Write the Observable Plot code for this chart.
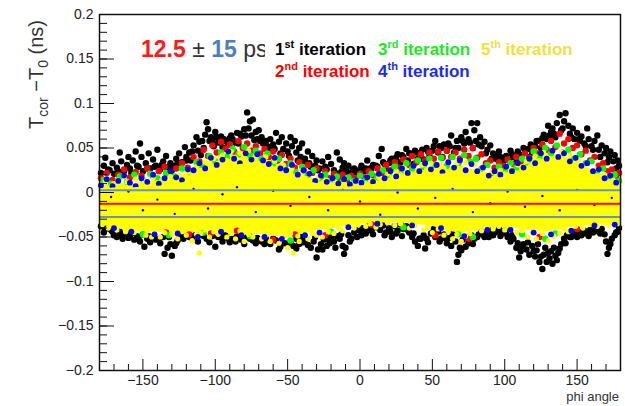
<!DOCTYPE html>
<html><head><meta charset="utf-8">
<script src="https://cdn.jsdelivr.net/npm/d3@7"></script>
<script src="https://cdn.jsdelivr.net/npm/@observablehq/plot@0.6"></script>
<style>body{margin:0;background:#fff}</style>
</head><body><div id="chart"></div>
<script>
// fit result (ns)
const meanNs = -0.0125;
const sigmaNs = 0.015;

// tick positions
const xMajor = [-150,-100,-50,0,50,100,150];
const xMinor = [-180,-170,-160,-140,-130,-120,-110,-90,-80,-70,-60,-40,-30,-20,-10,10,20,30,40,60,70,80,90,110,120,130,140,160,170,180];
const yMajor = [-0.2,-0.15,-0.1,-0.05,0,0.05,0.1,0.15,0.2];
const yMinor = d3.range(-20, 21).map(d => d / 100);

// 5th-iteration cloud: dense core and outer extent
const phiGrid = [-180,-170,-160,-150,-140,-130,-120,-110,-100,-90,-80,-70,-60,-50,-40,-30,-20,-10,0,10,20,30,40,50,60,70,80,90,100,110,120,130,140,150,160,170,180];
const yellowTop = [.004,.005,.005,.006,.007,.008,.012,.020,.026,.030,.032,.030,.024,.019,.014,.010,.007,.006,.007,.009,.012,.016,.019,.020,.021,.020,.017,.014,.017,.021,.028,.032,.030,.025,.018,.009,.006];
const yellowBot = [-.032,-.034,-.035,-.036,-.037,-.036,-.037,-.035,-.035,-.037,-.038,-.038,-.039,-.040,-.038,-.036,-.035,-.033,-.032,-.031,-.031,-.031,-.032,-.034,-.036,-.038,-.036,-.034,-.034,-.035,-.036,-.037,-.035,-.033,-.032,-.031,-.031];
const yellowOuterTop = [.007,.009,.009,.011,.013,.014,.021,.031,.038,.045,.047,.044,.035,.028,.021,.015,.011,.009,.011,.014,.018,.023,.027,.028,.030,.028,.025,.021,.025,.030,.041,.045,.041,.035,.025,.014,.010];
const yellowOuterBot = [-.036,-.040,-.042,-.044,-.045,-.045,-.046,-.044,-.043,-.046,-.048,-.047,-.049,-.051,-.047,-.043,-.041,-.038,-.036,-.034,-.034,-.034,-.036,-.038,-.043,-.046,-.042,-.039,-.039,-.041,-.043,-.044,-.041,-.038,-.036,-.035,-.034];

// 1st iteration (black)
const blackPts = [
[-179,.022],[-177,.030],[-176,.039],[-173,.025],[-171,.033],[-170,.021],
[-168,.028],[-166,.045],[-165,.035],[-163,.024],[-161,.031],[-160,.040],
[-158,.022],[-157,.036],[-155,.046],[-153,.029],[-152,.055],[-151,.040],[-150,.024],
[-148,.033],[-146,.044],[-145,.027],[-143,.037],[-141,.030],[-140,.048],
[-138,.026],[-136,.035],[-134,.041],[-133,.028],[-131,.033],[-130,.025],
[-128,.030],[-127,.038],[-125,.044],[-123,.034],[-121,.051],[-120,.040],
[-118,.045],[-117,.036],[-115,.053],[-113,.062],[-112,.047],[-111,.057],[-110,.042],
[-108,.050],[-107,.065],[-106,.079],[-105,.071],[-104,.058],[-103,.062],[-101,.052],[-100,.068],
[-98,.056],[-96,.063],[-95,.051],[-93,.058],[-91,.054],[-90,.061],
[-88,.060],[-86,.056],[-85,.067],[-84,.055],[-82,.063],[-80,.071],[-78,.090],[-77,.072],[-76,.080],
[-75,.064],[-74,.082],[-73,.059],[-72,.068],[-71,.060],[-70,.070],
[-68,.062],[-67,.055],[-65,.058],[-63,.050],[-62,.060],[-60,.054],
[-58,.067],[-56,.057],[-54,.062],[-53,.049],[-51,.055],[-50,.046],
[-48,.062],[-47,.052],[-45,.058],[-44,.045],[-42,.050],[-41,.040],[-40,.055],
[-38,.038],[-36,.046],[-35,.033],[-33,.041],[-31,.030],[-30,.036],
[-28,.027],[-26,.035],[-24,.029],[-22,.040],[-20,.032],
[-18,.025],[-16,.045],[-14,.037],[-12,.028],[-11,.033],[-10,.024],
[-8,.030],[-6,.022],[-4,.027],[-2,.021],[0,.026],
[1,.030],[3,.024],[5,.036],[7,.027],[9,.031],
[12,.029],[13,.041],[15,.049],[16,.034],[18,.026],[20,.033],
[22,.038],[24,.029],[26,.043],[28,.034],[30,.040],
[32,.049],[33,.036],[35,.044],[37,.032],[38,.047],[40,.038],
[42,.043],[44,.037],[46,.050],[48,.041],[50,.047],
[52,.058],[54,.045],[55,.052],[57,.040],[58,.054],[60,.047],
[62,.052],[63,.064],[65,.045],[67,.058],[68,.050],[70,.062],
[72,.055],[73,.068],[75,.060],[77,.078],[78,.050],[79,.070],[80,.058],
[81,.078],[83,.062],[84,.052],[86,.057],[88,.048],[90,.053],
[92,.044],[94,.038],[96,.046],[97,.040],[99,.035],
[101,.041],[103,.036],[104,.047],[106,.040],[108,.034],[110,.043],
[112,.038],[114,.045],[116,.049],[117,.040],[119,.044],
[121,.052],[123,.058],[125,.050],[127,.065],[129,.060],[130,.075],
[132,.068],[133,.072],[135,.062],[136,.078],[138,.087],[139,.070],
[141,.080],[142,.089],[144,.075],[145,.066],[147,.072],[148,.060],[150,.067],
[152,.058],[153,.063],[155,.055],[157,.072],[158,.060],[160,.052],
[162,.058],[164,.064],[165,.048],[167,.053],[169,.044],[170,.050],
[172,.040],[173,.046],[175,.035],[176,.042],[178,.036],[179,.030],
[-174,.026],[-167,.024],[-159,.027],[-154,.030],[-147,.027],[-142,.029],[-137,.031],[-132,.029],[-126,.033],[-120,.036],[-116,.046],[-109,.058],[-102,.058],[-99,.062],[-94,.060],[-89,.064],[-83,.066],[-79,.064],[-69,.058],[-64,.052],[-59,.049],[-55,.044],[-49,.041],[-43,.036],[-39,.032],[-34,.029],[-29,.025],[-23,.026],[-17,.022],[-13,.023],[-9,.023],[-5,.026],[-1,.024],[4,.027],[8,.027],[11,.030],[17,.032],[21,.036],[25,.039],[29,.042],[34,.044],[39,.045],[43,.048],[47,.046],[51,.052],[56,.050],[61,.055],[66,.050],[71,.058],[76,.056],[82,.054],[87,.044],[91,.038],[95,.041],[100,.039],[105,.043],[109,.046],[113,.050],[118,.054],[122,.058],[126,.061],[131,.064],[134,.066],[140,.072],[146,.062],[151,.060],[156,.052],[161,.048],[166,.040],[171,.034],[177,.027],
[-179,-.038],[-177,-.045],[-175,-.037],[-172,-.042],[-170,-.048],
[-168,-.050],[-166,-.044],[-164,-.052],[-162,-.047],[-160,-.051],
[-158,-.046],[-156,-.053],[-154,-.049],[-152,-.055],[-150,-.047],
[-149,-.061],[-147,-.052],[-145,-.056],[-143,-.050],[-141,-.053],
[-138,-.057],[-136,-.050],[-135,-.069],[-133,-.062],[-131,-.058],[-130,-.071],
[-128,-.060],[-126,-.054],[-124,-.049],[-122,-.052],
[-118,-.050],[-114,-.048],[-110,-.047],[-106,-.052],[-102,-.049],[-100,-.061],
[-98,-.050],[-95,-.055],[-93,-.048],[-90,-.056],
[-88,-.052],[-85,-.049],[-82,-.053],[-78,-.050],[-74,-.054],[-71,-.051],
[-68,-.055],[-65,-.052],[-62,-.058],[-58,-.054],[-55,-.061],[-52,-.057],
[-48,-.055],[-46,-.060],[-44,-.052],[-42,-.058],[-40,-.050],
[-38,-.053],[-36,-.059],[-34,-.062],[-32,-.055],[-30,-.073],[-29,-.064],
[-27,-.058],[-25,-.053],[-23,-.060],[-21,-.057],[-20,-.050],
[-18,-.055],[-16,-.049],[-14,-.052],[-12,-.060],[-11,-.069],[-10,-.062],
[-8,-.048],[-6,-.052],[-4,-.045],[-2,-.050],[0,-.043],
[2,-.040],[4,-.046],[6,-.038],[8,-.043],[10,-.039],
[12,-.036],[14,-.042],[16,-.037],[18,-.045],[20,-.040],
[22,-.050],[24,-.038],[26,-.043],[28,-.036],[30,-.041],
[32,-.038],[34,-.045],[36,-.050],[38,-.055],[40,-.060],
[42,-.052],[44,-.048],[45,-.063],[47,-.056],[49,-.046],
[52,-.050],[54,-.044],[56,-.052],[58,-.047],[60,-.057],
[62,-.051],[64,-.046],[66,-.055],[67,-.078],[68,-.070],[69,-.062],
[71,-.053],[73,-.061],[75,-.057],[77,-.048],[79,-.052],
[82,-.047],[84,-.044],[86,-.050],[88,-.046],[90,-.043],
[92,-.048],[94,-.044],[96,-.041],[98,-.046],[100,-.043],
[102,-.050],[104,-.055],[106,-.052],[108,-.062],[110,-.073],
[111,-.066],[113,-.058],[115,-.064],[117,-.070],[119,-.060],
[121,-.072],[122,-.065],[124,-.078],[126,-.086],[127,-.070],[129,-.078],[130,-.068],
[131,-.074],[133,-.080],[134,-.062],[136,-.076],[137,-.068],[139,-.058],
[141,-.052],[143,-.048],[145,-.050],[147,-.045],[149,-.047],
[151,-.044],[153,-.048],[155,-.043],[157,-.046],[159,-.042],
[161,-.045],[163,-.040],[165,-.044],[167,-.041],[169,-.047],
[171,-.069],[172,-.062],[174,-.052],[176,-.048],[177,-.045],[179,-.040],
[-176,-.041],[-171,-.044],[-165,-.047],[-159,-.049],[-153,-.051],[-146,-.049],[-139,-.052],[-132,-.050],[-127,-.057],[-121,-.049],[-116,-.051],[-112,-.055],[-108,-.049],[-104,-.056],[-96,-.050],[-91,-.052],[-86,-.055],[-80,-.058],[-76,-.052],[-72,-.057],[-66,-.058],[-60,-.052],[-56,-.064],[-50,-.058],[-44,-.063],[-39,-.056],[-31,-.050],[-26,-.064],[-22,-.052],[-17,-.062],[-13,-.047],[-7,-.055],[-3,-.042],[1,-.048],[5,-.043],[9,-.047],[13,-.040],[17,-.048],[21,-.044],[25,-.046],[29,-.049],[33,-.042],[37,-.046],[41,-.052],[46,-.052],[51,-.041],[55,-.055],[59,-.051],[63,-.060],[70,-.065],[74,-.050],[78,-.058],[81,-.050],[85,-.047],[89,-.050],[93,-.045],[97,-.049],[101,-.046],[105,-.048],[109,-.057],[112,-.060],[116,-.056],[120,-.066],[123,-.058],[125,-.072],[128,-.062],[132,-.066],[135,-.071],[138,-.063],[142,-.057],[146,-.050],[150,-.050],[154,-.046],[158,-.049],[162,-.043],[166,-.046],[170,-.055],[173,-.058],[178,-.044]
];

// 2nd iteration (red)
const redPts = [
[-179,.016],[-175,.022],[-171,.014],[-167,.020],[-163,.026],[-159,.017],[-155,.023],[-151,.019],[-147,.027],[-143,.018],[-139,.024],[-135,.029],[-131,.020],[-127,.027],[-123,.033],[-119,.028],[-115,.040],[-111,.035],[-108,.048],[-105,.041],[-102,.053],[-99,.045],[-96,.057],[-93,.049],[-90,.054],[-87,.046],[-84,.058],[-81,.050],[-78,.055],[-75,.047],[-72,.052],[-69,.044],[-66,.049],[-63,.040],[-60,.046],[-57,.036],[-54,.042],[-51,.032],[-48,.038],[-45,.028],[-42,.034],[-39,.025],[-36,.031],[-33,.022],[-30,.027],[-27,.018],[-24,.024],[-21,.016],[-18,.021],[-15,.015],[-12,.020],[-9,.014],[-6,.019],[-3,.016],[0,.021],[3,.017],[6,.024],[9,.019],[12,.027],[15,.022],[18,.031],[21,.025],[24,.034],[27,.028],[30,.037],[33,.031],[36,.041],[39,.034],[42,.043],[45,.036],[48,.045],[51,.038],[54,.046],[57,.039],[60,.047],[63,.040],[66,.045],[69,.038],[72,.048],[75,.041],[78,.050],[81,.039],[84,.043],[87,.033],[90,.036],[93,.028],[96,.034],[99,.030],[102,.037],[105,.032],[108,.040],[111,.035],[114,.044],[117,.039],[120,.050],[123,.044],[126,.054],[129,.048],[132,.058],[135,.051],[138,.066],[141,.055],[144,.060],[147,.050],[150,.053],[153,.043],[156,.047],[159,.036],[162,.040],[165,.030],[168,.033],[171,.024],[174,.026],[177,.018],[179,.022],
[-134,-.045],[-118,-.047],[-103,-.046],[-85,-.043],[-60,-.053],[-45,-.047],[-24,-.048],[8,-.036],[52,-.048],[75,-.052],[124,-.050],[150,-.041]
];

// 3rd iteration (green)
const greenPts = [
[-177,.014],[-172,.010],[-166,.018],[-161,.012],[-156,.020],[-150,.014],[-145,.021],[-140,.016],[-134,.022],[-128,.018],[-123,.027],[-118,.023],[-113,.034],[-109,.030],[-104,.041],[-100,.035],[-96,.045],[-92,.040],[-88,.049],[-84,.043],[-80,.051],[-76,.042],[-72,.047],[-68,.038],[-64,.044],[-60,.033],[-56,.038],[-52,.028],[-48,.033],[-44,.023],[-40,.029],[-36,.020],[-32,.025],[-28,.016],[-24,.020],[-20,.013],[-16,.018],[-12,.012],[-8,.017],[-4,.013],[0,.019],[4,.014],[8,.021],[12,.017],[16,.025],[20,.020],[24,.029],[28,.023],[32,.033],[36,.027],[40,.036],[44,.029],[48,.038],[52,.031],[56,.039],[60,.030],[64,.040],[68,.033],[72,.042],[76,.035],[80,.038],[84,.027],[88,.031],[92,.022],[96,.029],[100,.025],[104,.033],[108,.028],[112,.038],[116,.034],[120,.046],[124,.040],[128,.050],[132,.044],[136,.053],[140,.045],[144,.048],[148,.038],[152,.043],[156,.033],[160,.035],[164,.025],[168,.027],[172,.018],[176,.020],[179,.013],
[-150,-.047],[-132,-.048],[-108,-.045],[-76,-.049],[-48,-.054],[-20,-.044],[30,-.039],[68,-.047],[78,-.050],[112,-.047],[128,-.052],[135,-.046]
];

// 4th iteration (blue)
const bluePts = [
[-179,.008],[-175,.015],[-171,.007],[-167,.013],[-163,.019],[-159,.011],[-155,.007],[-151,.016],[-147,.012],[-143,.020],[-139,.010],[-135,.016],[-131,.024],[-127,.017],[-123,.014],[-119,.026],[-115,.025],[-111,.033],[-107,.027],[-103,.039],[-99,.031],[-95,.037],[-91,.046],[-87,.038],[-83,.033],[-79,.044],[-75,.037],[-71,.043],[-67,.036],[-63,.032],[-59,.039],[-55,.027],[-51,.025],[-47,.031],[-43,.020],[-39,.025],[-35,.021],[-31,.013],[-27,.019],[-23,.012],[-19,.016],[-15,.010],[-11,.015],[-7,.009],[-3,.013],[1,.011],[5,.017],[9,.012],[13,.021],[17,.016],[21,.024],[25,.018],[29,.027],[33,.022],[37,.030],[41,.024],[45,.033],[49,.026],[53,.031],[57,.023],[61,.034],[65,.028],[69,.036],[73,.025],[77,.032],[81,.024],[85,.028],[89,.019],[93,.024],[97,.020],[101,.029],[105,.024],[109,.033],[113,.028],[117,.038],[121,.033],[125,.044],[129,.038],[133,.047],[137,.040],[141,.044],[145,.035],[149,.039],[153,.030],[157,.033],[161,.024],[165,.026],[169,.016],[173,.019],[177,.011],
[-170,-.040],[-158,-.044],[-142,-.047],[-126,-.046],[-112,-.050],[-96,-.044],[-82,-.048],[-66,-.050],[-54,-.052],[-38,-.048],[-28,-.045],[-8,-.039],[12,-.035],[36,-.037],[56,-.040],[72,-.049],[88,-.042],[104,-.042],[120,-.045],[132,-.047],[146,-.043],[162,-.037],[176,-.036]
];
const blueSpecks = [[-172,-.005],[-160,.001],[-150,-.020],[-140,-.008],[-128,-.024],[-115,.004],[-105,-.018],[-95,-.002],[-85,.006],[-72,-.022],[-60,.002],[-48,-.015],[-35,-.005],[-22,-.020],[-12,.003],[0,-.010],[14,-.025],[26,.000],[40,-.018],[52,-.006],[64,.004],[78,-.022],[90,-.012],[102,.001],[114,-.016],[126,-.004],[138,-.020],[150,.003],[162,-.014],[174,-.006]];

// 5th iteration (yellow) points outside the dense core
const yellowPts = [
[-179,.008],[-176,.012],[-173,.006],[-170,.010],[-167,.014],[-164,.008],[-161,.012],[-158,.009],[-155,.015],[-152,.010],[-149,.013],[-146,.009],[-143,.016],[-140,.011],[-137,.014],[-134,.010],[-131,.018],[-128,.013],[-125,.019],[-122,.015],[-119,.023],[-116,.020],[-113,.029],[-110,.025],[-107,.034],[-104,.029],[-101,.038],[-98,.033],[-95,.042],[-92,.036],[-89,.046],[-86,.039],[-83,.044],[-80,.036],[-77,.047],[-74,.038],[-71,.042],[-68,.033],[-65,.040],[-62,.029],[-59,.035],[-56,.026],[-53,.031],[-50,.022],[-47,.027],[-44,.019],[-41,.024],[-38,.016],[-35,.020],[-32,.013],[-29,.016],[-26,.011],[-23,.014],[-20,.009],[-17,.012],[-14,.008],[-11,.011],[-8,.008],[-5,.010],[-2,.009],[1,.012],[4,.010],[7,.014],[10,.012],[13,.017],[16,.014],[19,.021],[22,.017],[25,.024],[28,.020],[31,.027],[34,.022],[37,.030],[40,.024],[43,.031],[46,.026],[49,.033],[52,.025],[55,.032],[58,.027],[61,.035],[64,.026],[67,.033],[70,.027],[73,.034],[76,.024],[79,.031],[82,.022],[85,.027],[88,.018],[91,.023],[94,.019],[97,.025],[100,.021],[103,.028],[106,.023],[109,.031],[112,.027],[115,.035],[118,.031],[121,.041],[124,.036],[127,.045],[130,.039],[133,.047],[136,.040],[139,.045],[142,.037],[145,.042],[148,.033],[151,.037],[154,.028],[157,.032],[160,.023],[163,.026],[166,.018],[169,.020],[172,.012],[175,.014],[178,.009],
[-178,-.036],[-174,-.040],[-168,-.042],[-162,-.044],[-156,-.045],[-148,-.048],[-144,-.050],[-138,-.050],[-130,-.047],[-126,-.052],[-120,-.048],[-116,-.054],[-111,-.068],[-110,-.046],[-104,-.050],[-98,-.047],[-92,-.050],[-86,-.052],[-80,-.055],[-74,-.050],[-68,-.052],[-62,-.055],[-56,-.057],[-50,-.062],[-46,-.068],[-42,-.055],[-36,-.052],[-30,-.048],[-26,-.050],[-18,-.046],[-12,-.043],[-4,-.040],[4,-.038],[14,-.036],[24,-.037],[34,-.040],[44,-.042],[50,-.045],[58,-.048],[64,-.052],[70,-.055],[76,-.046],[84,-.043],[92,-.041],[100,-.042],[108,-.045],[116,-.050],[122,-.052],[130,-.054],[138,-.046],[144,-.044],[154,-.040],[164,-.038],[172,-.036],[178,-.035],
[-177,-.033],[-171,-.038],[-165,-.036],[-159,-.041],[-153,-.039],[-147,-.043],[-141,-.040],[-135,-.045],[-129,-.041],[-123,-.044],[-117,-.040],[-113,-.047],[-107,-.042],[-101,-.044],[-95,-.041],[-89,-.046],[-83,-.043],[-77,-.047],[-71,-.044],[-65,-.048],[-59,-.045],[-53,-.050],[-48,-.046],[-43,-.049],[-39,-.044],[-33,-.046],[-28,-.041],[-22,-.044],[-15,-.040],[-9,-.038],[-1,-.036],[7,-.035],[11,-.039],[19,-.034],[28,-.035],[38,-.037],[47,-.039],[54,-.041],[61,-.044],[67,-.047],[73,-.049],[80,-.041],[88,-.039],[96,-.038],[104,-.040],[112,-.043],[119,-.045],[126,-.046],[134,-.049],[141,-.041],[149,-.038],[159,-.036],[168,-.034],[176,-.033]
];

const toPts = arr => arr.map(([phi, v]) => ({phi, v}));
const core = phiGrid.map((phi, i) => ({phi, top: yellowTop[i], bot: yellowBot[i]}));
const outer = phiGrid.map((phi, i) => ({phi, top: yellowOuterTop[i], bot: yellowOuterBot[i]}));
const fmtX = d => d < 0 ? "\u2212" + Math.abs(d) : String(d);
const fmtY = d => d === 0 ? "0" : (d < 0 ? "\u2212" : "") + String(Math.abs(d));
const R = 3.2;

const chart = Plot.plot({
  width: 625, height: 406,
  marginLeft: 99, marginRight: 5, marginTop: 14, marginBottom: 36,
  x: {domain: [-180, 180]},
  y: {domain: [-0.2, 0.2]},
  style: {fontFamily: "'Liberation Sans', Arial, sans-serif", fontSize: "14px", background: "white", color: "#222"},
  marks: [
    Plot.dot(toPts(blackPts), {x: "phi", y: "v", r: R, fill: "#000"}),
    Plot.areaY(outer, {x: "phi", y1: "bot", y2: "top", fill: "#ffff00"}),
    Plot.dot(toPts(redPts), {x: "phi", y: "v", r: R, fill: "#ff0000"}),
    Plot.dot(toPts(greenPts), {x: "phi", y: "v", r: R, fill: "#00ff00"}),
    Plot.dot(toPts(yellowPts), {x: "phi", y: "v", r: 2.6, fill: "#ffff00"}),
    Plot.dot(toPts(bluePts), {x: "phi", y: "v", r: 2.9, fill: "#0000ff"}),
    Plot.areaY(core, {x: "phi", y1: "bot", y2: "top", fill: "#ffff00"}),
    Plot.dot(toPts(blueSpecks), {x: "phi", y: "v", r: 1.2, fill: "#0000ff"}),
    Plot.ruleY([meanNs + sigmaNs, meanNs - sigmaNs], {stroke: "#6b93bf", strokeWidth: 2}),
    Plot.ruleY([meanNs], {stroke: "#ff0000", strokeWidth: 2}),
    Plot.frame({stroke: "#111", strokeWidth: 1.5}),
    Plot.axisX(xMajor, {tickSize: -11, tickFormat: () => "", label: null, stroke: "#111"}),
    Plot.axisX(xMinor, {tickSize: -6, tickFormat: () => "", label: null, stroke: "#111"}),
    Plot.axisX(xMajor, {tickSize: 0, tickPadding: 5, tickFormat: fmtX, label: null, fontSize: 14, fill: "#222"}),
    Plot.axisY(yMajor, {tickSize: -15, tickFormat: () => "", label: null, stroke: "#111"}),
    Plot.axisY(yMinor, {tickSize: -8, tickFormat: () => "", label: null, stroke: "#111"}),
    Plot.axisY(yMajor, {tickSize: 0, tickPadding: 6, tickFormat: fmtY, label: null, fontSize: 14, fill: "#222"})
  ]
});
document.getElementById("chart").appendChild(chart);

const svg = d3.select(chart);
const FONT = "'Liberation Sans', Arial, sans-serif";

// y-axis title
const yl = svg.append("text").attr("transform", "translate(43,20) rotate(-90)")
  .attr("text-anchor", "end").attr("font-family", FONT).attr("font-size", 20).attr("fill", "#333");
yl.append("tspan").text("T");
yl.append("tspan").attr("dy", 5).attr("font-size", 14).text("cor");
yl.append("tspan").attr("dy", -5).text(" \u2212T");
yl.append("tspan").attr("dy", 5).attr("font-size", 14).text("0");
yl.append("tspan").attr("dy", -5).text(" (ns)");

// x-axis title
svg.append("text").attr("x", 619).attr("y", 401).attr("text-anchor", "end")
  .attr("font-family", FONT).attr("font-size", 13).attr("fill", "#333").text("phi angle");

// fit summary
const fs = svg.append("text").attr("x", 141).attr("y", 57).attr("text-anchor", "start")
  .attr("font-family", FONT).attr("font-size", 23);
fs.append("tspan").attr("font-weight", "bold").attr("fill", "#ff1a1a").text(String(Math.abs(meanNs) * 1000));
fs.append("tspan").attr("fill", "#333").text(" \u00b1 ");
fs.append("tspan").attr("font-weight", "bold").attr("fill", "#4a7fc0").text(String(sigmaNs * 1000));
fs.append("tspan").attr("fill", "#333").text(" ps");

// legend box
svg.append("rect").attr("x", 265).attr("y", 32).attr("width", 345).attr("height", 52).attr("fill", "white");
const legend = [
  {n: "1", sup: "st", c: "#000000", x: 275, y: 55},
  {n: "2", sup: "nd", c: "#ff0000", x: 275, y: 77},
  {n: "3", sup: "rd", c: "#1ee81e", x: 378, y: 55},
  {n: "4", sup: "th", c: "#1a2cf0", x: 378, y: 77},
  {n: "5", sup: "th", c: "#f2e040", x: 481, y: 55}
];
for (const l of legend) {
  const t = svg.append("text").attr("x", l.x).attr("y", l.y).attr("text-anchor", "start")
    .attr("font-family", FONT).attr("font-size", 17).attr("font-weight", "bold").attr("fill", l.c);
  t.append("tspan").text(l.n);
  t.append("tspan").attr("dy", -7).attr("font-size", 11).text(l.sup);
  t.append("tspan").attr("dy", 7).text(" iteration");
}
</script>
</body></html>
